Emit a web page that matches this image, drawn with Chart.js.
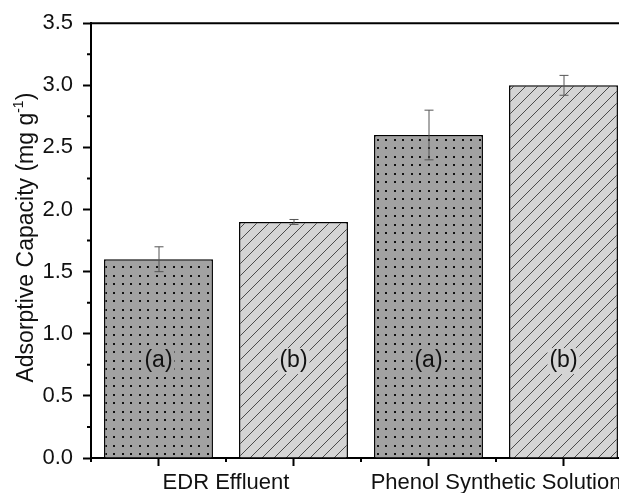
<!DOCTYPE html>
<html>
<head>
<meta charset="utf-8">
<script src="https://cdn.jsdelivr.net/npm/chart.js@4"></script>
<style>
  html, body { margin: 0; padding: 0; background: #fff; overflow: hidden; }
  canvas { display: block; }
</style>
</head>
<body>
<canvas id="grafico" width="640" height="493"></canvas>
<script>
// adsorption results, one dataset per sample
var groups = ['EDR Effluent', 'Phenol Synthetic Solution'];
var sampleNames = ['(a)', '(b)'];
var capacityA = [1.6, 2.6];
var capacityB = [1.9, 3.0];
var errorA = [0.1, 0.2];
var errorB = [0.02, 0.08];

var fontName = "'Liberation Sans', Arial, sans-serif";
var textColor = '#111';
var fillA = '#a2a2a2';
var fillB = '#d4d4d4';

// dotted fill for (a)
function dotPattern() {
  var c = document.createElement('canvas');
  c.width = 17; c.height = 17;
  var g = c.getContext('2d');
  g.fillStyle = fillA;
  g.fillRect(0, 0, 17, 17);
  g.fillStyle = '#111';
  [[3, 3], [11, 3], [3, 11], [11, 11]].forEach(function(p) {
    g.fillRect(p[0], p[1], 2, 2);
  });
  return g.createPattern(c, 'repeat');
}

// diagonal hatch for (b)
function hatchPattern() {
  var c = document.createElement('canvas');
  c.width = 12; c.height = 12;
  var g = c.getContext('2d');
  g.fillStyle = fillB;
  g.fillRect(0, 0, 12, 12);
  g.strokeStyle = '#4a4a4a';
  g.lineWidth = 1;
  g.beginPath();
  g.moveTo(-1, 13); g.lineTo(13, -1);
  g.moveTo(-7, 7); g.lineTo(7, -7);
  g.moveTo(5, 19); g.lineTo(19, 5);
  g.stroke();
  return g.createPattern(c, 'repeat');
}

var extras = {
  id: 'extras',
  afterDatasetsDraw: function(chart) {
    var ctx = chart.ctx;
    var y = chart.scales.y;
    chart.data.datasets.forEach(function(ds, di) {
      var meta = chart.getDatasetMeta(di);
      meta.data.forEach(function(bar, i) {
        var v = ds.data[i], e = ds.errors[i];
        var top = y.getPixelForValue(v + e);
        var bot = y.getPixelForValue(v - e);
        ctx.save();
        ctx.strokeStyle = '#555';
        ctx.lineWidth = 1;
        ctx.beginPath();
        ctx.moveTo(bar.x + 0.5, top); ctx.lineTo(bar.x + 0.5, bot);
        ctx.moveTo(bar.x - 4, top); ctx.lineTo(bar.x + 5, top);
        ctx.moveTo(bar.x - 4, bot); ctx.lineTo(bar.x + 5, bot);
        ctx.stroke();

        // sample name inside the bar
        ctx.font = '23px ' + fontName;
        var w = ctx.measureText(ds.label).width;
        var ty = y.getPixelForValue(0.78);
        ctx.fillStyle = ds.plainColor;
        ctx.fillRect(bar.x - w / 2 - 2, ty - 13, w + 4, 26);
        ctx.fillStyle = textColor;
        ctx.textAlign = 'center';
        ctx.textBaseline = 'middle';
        ctx.fillText(ds.label, bar.x, ty);
        ctx.restore();
      });
    });
  },
  afterDraw: function(chart) {
    var ctx = chart.ctx;
    var a = chart.chartArea;
    var x = chart.scales.x, y = chart.scales.y;
    ctx.save();
    ctx.strokeStyle = '#000';
    ctx.lineWidth = 2;

    // top frame line
    ctx.beginPath();
    ctx.moveTo(a.left - 1, a.top);
    ctx.lineTo(chart.width, a.top);
    ctx.stroke();

    // minor y ticks
    ctx.beginPath();
    for (var v = 0.25; v < 3.5; v += 0.5) {
      var py = y.getPixelForValue(v);
      ctx.moveTo(a.left, py); ctx.lineTo(a.left - 4, py);
    }
    // long x ticks under each bar
    chart.data.datasets.forEach(function(ds, di) {
      chart.getDatasetMeta(di).data.forEach(function(bar) {
        ctx.moveTo(bar.x, a.bottom); ctx.lineTo(bar.x, a.bottom + 8);
      });
    });
    // short x ticks at group centres and edges
    var half = (x.getPixelForValue(1) - x.getPixelForValue(0)) / 2;
    for (var i = 0; i < groups.length; i++) {
      var cx = x.getPixelForValue(i);
      [cx - half, cx, cx + half].forEach(function(px) {
        ctx.moveTo(px, a.bottom); ctx.lineTo(px, a.bottom + 4);
      });
    }
    ctx.stroke();

    // y axis title with superscript
    var main = 'Adsorptive Capacity (mg g';
    var sup = '-1';
    var tail = ')';
    ctx.translate(33, (a.top + a.bottom) / 2 - 3);
    ctx.rotate(-Math.PI / 2);
    ctx.fillStyle = textColor;
    ctx.textBaseline = 'alphabetic';
    ctx.font = '23px ' + fontName;
    var w1 = ctx.measureText(main).width;
    var w3 = ctx.measureText(tail).width;
    ctx.font = '14px ' + fontName;
    var w2 = ctx.measureText(sup).width;
    var sx = -(w1 + w2 + w3) / 2;
    ctx.font = '23px ' + fontName;
    ctx.fillText(main, sx, 0);
    ctx.font = '14px ' + fontName;
    ctx.fillText(sup, sx + w1, -10);
    ctx.font = '23px ' + fontName;
    ctx.fillText(tail, sx + w1 + w2, 0);
    ctx.restore();
  }
};

var ctx = document.getElementById('grafico').getContext('2d');
var grafico = new Chart(ctx, {
  type: 'bar',
  data: {
    labels: groups,
    datasets: [{
      label: sampleNames[0],
      data: capacityA,
      errors: errorA,
      plainColor: fillA,
      backgroundColor: dotPattern(),
      borderColor: '#000',
      borderWidth: 1.5
    }, {
      label: sampleNames[1],
      data: capacityB,
      errors: errorB,
      plainColor: fillB,
      backgroundColor: hatchPattern(),
      borderColor: '#000',
      borderWidth: 1.5
    }]
  },
  options: {
    responsive: false,
    animation: false,
    devicePixelRatio: 1,
    layout: { padding: { top: 23, right: 9, left: 0, bottom: 0 } },
    plugins: {
      legend: { display: false },
      tooltip: { enabled: false }
    },
    datasets: {
      bar: { categoryPercentage: 1.0, barPercentage: 0.807 }
    },
    scales: {
      x: {
        grid: { display: false },
        border: { color: '#000', width: 2 },
        ticks: {
          color: textColor,
          font: { family: fontName, size: 22 },
          padding: 4,
          maxRotation: 0,
          autoSkip: false
        },
        afterFit: function(s) { s.height = 35; }
      },
      y: {
        min: 0,
        max: 3.5,
        grid: {
          drawOnChartArea: false,
          tickLength: 8,
          tickWidth: 2,
          tickColor: '#000'
        },
        border: { color: '#000', width: 2 },
        ticks: {
          stepSize: 0.5,
          color: textColor,
          padding: 10,
          font: { family: fontName, size: 22 },
          callback: function(v) { return v.toFixed(1); }
        },
        afterFit: function(s) { s.width = 91; }
      }
    }
  },
  plugins: [extras]
});
</script>
</body>
</html>
